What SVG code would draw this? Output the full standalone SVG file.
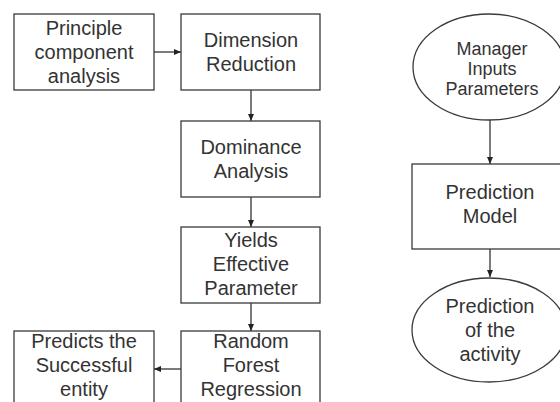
<svg xmlns="http://www.w3.org/2000/svg" width="560" height="402" viewBox="0 0 560 402">
<defs>
<marker id="ah" markerUnits="userSpaceOnUse" markerWidth="8" markerHeight="8" refX="7" refY="3.5" orient="auto">
<path d="M0,0.5 L7,3.5 L0,6.5 Z" fill="#222"/>
</marker>
<style>
.box{fill:#fff;stroke:#3a3a3a;stroke-width:1.3}
.t{font-family:"Liberation Sans",Arial,sans-serif;font-size:20px;fill:#333;text-anchor:middle}
.ts{font-family:"Liberation Sans",Arial,sans-serif;font-size:18px;fill:#333;text-anchor:middle}
.c{stroke:#222;stroke-width:1.2;fill:none;marker-end:url(#ah)}
</style>
</defs>
<rect width="560" height="402" fill="#fff"/>
<g id="connectors">
<line class="c" x1="154" y1="52" x2="181" y2="52"/>
<line class="c" x1="251" y1="90" x2="251" y2="121"/>
<line class="c" x1="251" y1="197" x2="251" y2="227"/>
<line class="c" x1="251" y1="303" x2="251" y2="331"/>
<line class="c" x1="181" y1="369" x2="154" y2="369"/>
<line class="c" x1="490" y1="120" x2="490" y2="164"/>
<line class="c" x1="490" y1="249" x2="490" y2="277"/>
</g>
<g id="pca">
<rect class="box" x="14" y="14" width="140" height="76"/>
<text class="t" x="84" y="34.5">Principle</text>
<text class="t" x="84" y="58.5">component</text>
<text class="t" x="84" y="82.5">analysis</text>
</g>
<g id="dimred">
<rect class="box" x="181" y="14" width="139" height="76"/>
<text class="t" x="251" y="47">Dimension</text>
<text class="t" x="251" y="71">Reduction</text>
</g>
<g id="dominance">
<rect class="box" x="181" y="121" width="139" height="76"/>
<text class="t" x="251" y="154">Dominance</text>
<text class="t" x="251" y="178">Analysis</text>
</g>
<g id="yields">
<rect class="box" x="181" y="227" width="139" height="76"/>
<text class="t" x="251" y="247">Yields</text>
<text class="t" x="251" y="271">Effective</text>
<text class="t" x="251" y="295">Parameter</text>
</g>
<g id="rf">
<rect class="box" x="181" y="331" width="139" height="78"/>
<text class="t" x="251" y="348">Random</text>
<text class="t" x="251" y="372">Forest</text>
<text class="t" x="251" y="396">Regression</text>
</g>
<g id="predicts">
<rect class="box" x="14" y="331" width="140" height="78"/>
<text class="t" x="84" y="348">Predicts the</text>
<text class="t" x="84" y="372">Successful</text>
<text class="t" x="84" y="396">entity</text>
</g>
<g id="manager">
<ellipse class="box" cx="489" cy="67" rx="76" ry="53"/>
<text class="ts" x="492" y="55">Manager</text>
<text class="ts" x="492" y="75">Inputs</text>
<text class="ts" x="492" y="95">Parameters</text>
</g>
<g id="model">
<rect class="box" x="412" y="164" width="156" height="85"/>
<text class="t" x="490" y="199">Prediction</text>
<text class="t" x="490" y="223">Model</text>
</g>
<g id="activity">
<ellipse class="box" cx="489" cy="330" rx="77" ry="52"/>
<text class="t" x="490" y="313">Prediction</text>
<text class="t" x="490" y="337">of the</text>
<text class="t" x="490" y="361">activity</text>
</g>
</svg>
